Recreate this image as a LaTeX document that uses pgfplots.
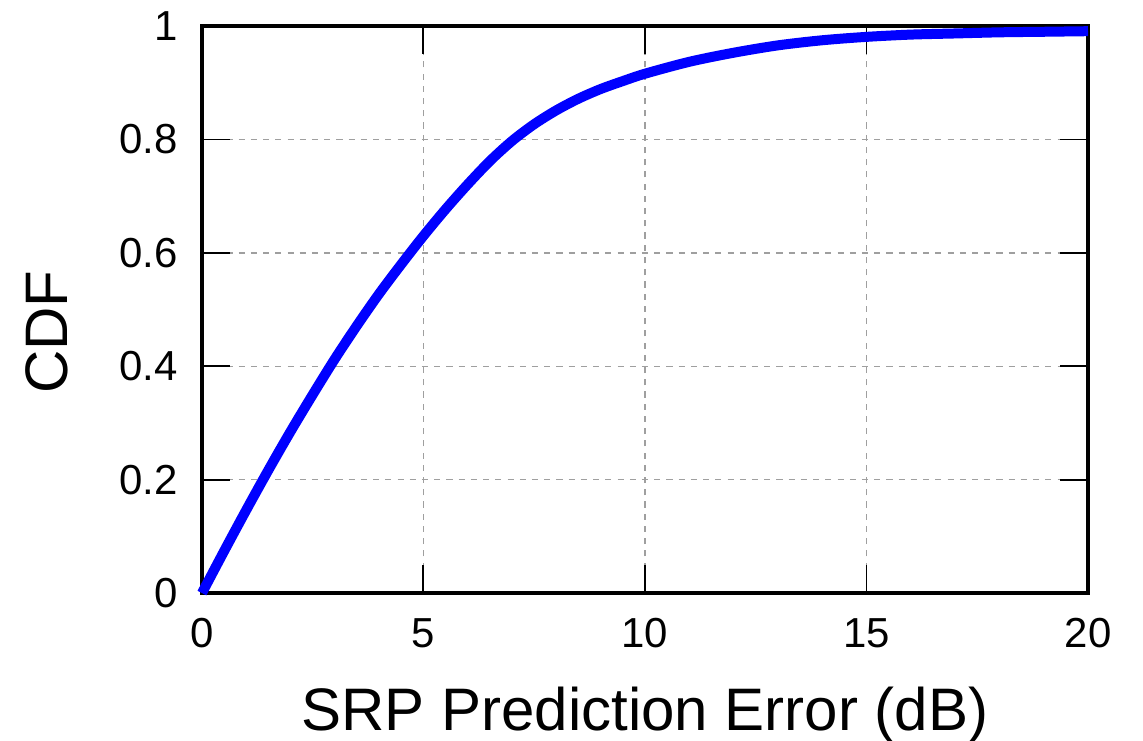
\documentclass[border=0pt]{standalone}
\usepackage{fontspec}
\setmainfont{Liberation Sans}
\usepackage{pgfplots}
\pgfplotsset{compat=1.18}
\usetikzlibrary{calc}
\begin{document}
\begin{tikzpicture}
\begin{axis}[
  scale only axis,
  width=318.96pt, height=204.1pt,
  xmin=0, xmax=20, ymin=0, ymax=1,
  xtick={0,5,10,15,20},
  ytick={0,0.2,0.4,0.6,0.8,1},
  /pgf/number format/assume math mode=true,
  tick label style={font=\fontsize{15.1}{18}\selectfont},
  xticklabel style={yshift=-5.6pt},
  yticklabel style={xshift=-5.2pt},
  tick align=inside,
  major tick length=10pt,
  major tick style={line width=0.7pt, black},
  axis line style={line width=1.45pt, black},
  grid=major,
  major grid style={gray!75, line width=0.45pt, dash pattern=on 2.2pt off 2.2pt},
  xlabel={SRP Prediction Error (dB)},
  ylabel={CDF},
  label style={font=\fontsize{21.6}{26}\selectfont},
  xlabel style={at={(axis description cs:0.5,-0.242)}, anchor=base},
  ylabel style={at={(axis description cs:-0.175,0.46)}, anchor=center},
  clip=false,
]
\addplot[blue, line width=3.6pt, smooth] coordinates {
(0,0) (0.5,0.074) (1,0.1465) (1.5,0.217) (2,0.285) (2.5,0.350) (3,0.413)
(3.5,0.472) (4,0.528) (4.5,0.58) (5,0.630) (5.5,0.677) (6,0.721) (6.5,0.762)
(7,0.7975) (7.5,0.827) (8,0.8515) (8.5,0.872) (9,0.889) (9.5,0.903) (10,0.916)
(11,0.937) (12,0.953) (13,0.966) (14,0.975) (15,0.981) (16,0.985) (17,0.987)
(18,0.989) (19,0.990) (20,0.991)
};
\end{axis}
\pgfresetboundingbox
\path[use as bounding box] ($(current axis.south west)+(-72.7pt,-52.9pt)$) rectangle ($(current axis.north east)+(19.8pt,9.4pt)$);
\end{tikzpicture}
\end{document}
